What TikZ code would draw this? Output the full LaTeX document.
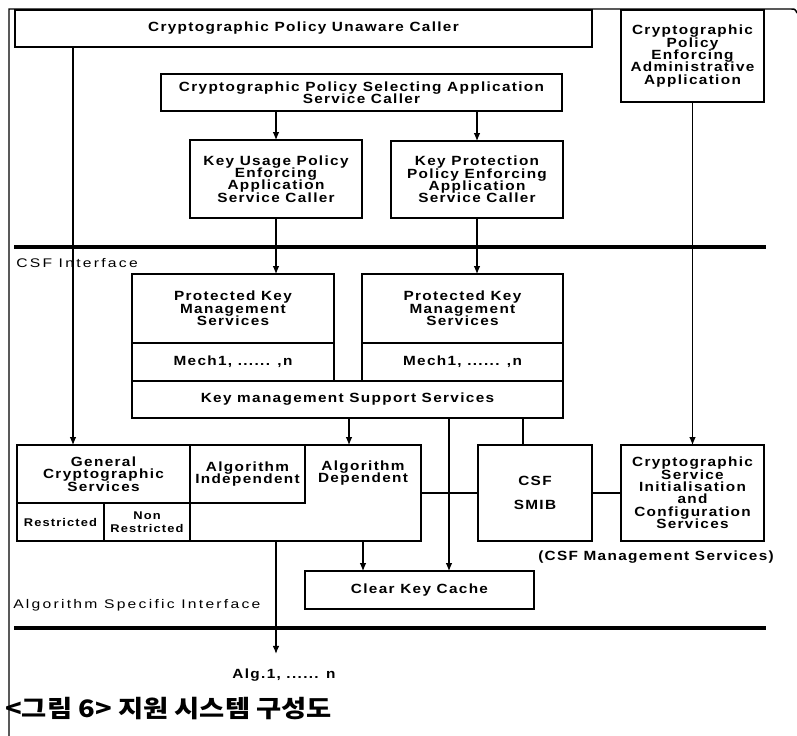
\documentclass[tikz,border=0pt]{standalone}
\usepackage{fontspec}
\usetikzlibrary{fit,arrows.meta}
\newfontfamily\bxfont[FakeStretch=1.15,LetterSpace=10]{Liberation Sans}
\newfontfamily\lbfont[FakeStretch=1.25,LetterSpace=18]{Liberation Sans}
\newfontfamily\krfont[FakeStretch=1.14]{Noto Sans CJK KR}
\newcommand\tightlines{\lineskiplimit=-20pt\lineskip=0pt}
\begin{document}
\begin{tikzpicture}[x=0.75pt,y=-0.75pt,
  bx/.style={draw, line width=0.9pt, inner sep=0pt, outer sep=0pt},
  zone/.style={inner sep=0pt, outer sep=0pt},
  txt/.style={font=\bxfont\bfseries\fontsize{10}{9.3}\selectfont\tightlines, align=center, inner sep=0pt},
  smalltxt/.style={font=\bxfont\bfseries\fontsize{8.4}{9.6}\selectfont\tightlines, align=center, inner sep=0pt},
  lbl/.style={font=\lbfont\fontsize{9.4}{10}\selectfont, inner sep=0pt},
  captiontext/.style={font=\krfont\bfseries\fontsize{18}{20}\selectfont, inner sep=0pt},
  ln/.style={line width=0.8pt},
  arr/.style={line width=0.8pt, -{Latex[length=6pt,width=5pt]}},
  bus/.style={line width=2.6pt},
  frameline/.style={line width=1.1pt}]
\useasboundingbox (0,0) rectangle (797,736);

% outer frame
\coordinate (fbl) at (9,736);
\coordinate (ftl) at (9,9);
\coordinate (ftr) at (791,9);
\coordinate (fte) at (797,13);
\draw[frameline] (fbl) -- (ftl) -- (ftr) .. controls (795,9) .. (fte);

% upper boxes
\node[bx, fit={(15,10) (592,47)}, label={[txt]center:{Cryptographic Policy Unaware Caller}}] (unaware) {};
\node[bx, fit={(161,74) (562,111)}, label={[txt]center:{Cryptographic Policy Selecting Application\\Service Caller}}] (select) {};
\node[bx, fit={(190,140) (362,218)}, label={[txt]center:{Key Usage Policy\\Enforcing\\Application\\Service Caller}}] (keyuse) {};
\node[bx, fit={(391,141) (563,218)}, label={[txt]center:{Key Protection\\Policy Enforcing\\Application\\Service Caller}}] (keyprot) {};
\node[bx, fit={(621,10) (764,102)}, label={[txt]center:{Cryptographic\\Policy\\Enforcing\\Administrative\\Application}}] (admin) {};

% interface buses
\coordinate (csfL) at (14,247);
\coordinate (csfR) at (766,247);
\draw[bus] (csfL) -- (csfR);
\node[lbl, anchor=west] (csfif) at (16,263) {CSF Interface};

\coordinate (asiL) at (14,628);
\coordinate (asiR) at (766,628);
\draw[bus] (asiL) -- (asiR);
\node[lbl, anchor=west] (asif) at (13,605) {Algorithm Specific Interface};

% key management
\node[bx, fit={(132,274) (334,343)}, label={[txt]center:{Protected Key\\Management\\Services}}] (pkm1) {};
\node[bx, fit={(132,343) (334,381)}, label={[txt]center:{Mech1, ...... ,n}}] (mech1) {};
\node[bx, fit={(362,274) (563,343)}, label={[txt]center:{Protected Key\\Management\\Services}}] (pkm2) {};
\node[bx, fit={(362,343) (563,381)}, label={[txt]center:{Mech1, ...... ,n}}] (mech2) {};
\node[bx, fit={(132,381) (563,418)}, label={[txt]center:{Key management Support Services}}] (kmss) {};

% general cryptographic services
\node[bx, fit={(17,445) (421,541)}] (gcbox) {};
\node[bx, fit={(17,445) (190,503)}, label={[txt]center:{General\\Cryptographic\\Services}}] (gcs) {};
\node[bx, fit={(190,445) (305,503)}, label={[txt]center:{Algorithm\\Independent}}] (algind) {};
\node[bx, fit={(17,503) (104,541)}, label={[smalltxt]center:{Restricted}}] (restr) {};
\node[bx, fit={(104,503) (190,541)}, label={[smalltxt]center:{Non\\Restricted}}] (nonrestr) {};
\node[zone, fit={(305,445) (421,541)}] (algdep) {};
\node[txt] (algdeptxt) at (363,473) {Algorithm\\Dependent};

\node[bx, fit={(478,445) (592,541)}, label={[txt]center:{CSF\\[9pt]SMIB}}] (smib) {};
\node[bx, fit={(621,445) (764,541)}, label={[txt]center:{Cryptographic\\Service\\Initialisation\\and\\Configuration\\Services}}] (csi) {};
\node[txt, anchor=west] (mgmt) at (538,557) {(CSF Management Services)};

\node[bx, fit={(305,571) (534,609)}, label={[txt]center:{Clear Key Cache}}] (ckc) {};

\node[txt, inner ysep=11pt] (alg) at (284,675) {Alg.1, ...... n};

\node[captiontext, anchor=west] (caption) at (5,709) {<그림 6> 지원 시스템 구성도};

% connectors
\draw[arr] (keyuse.north |- select.south) -- (keyuse.north);
\draw[arr] (keyprot.north |- select.south) -- (keyprot.north);
\draw[arr] (keyuse.south) -- (keyuse.south |- pkm1.north);
\draw[arr] (keyprot.south) -- (keyprot.south |- pkm2.north);
\draw[arr] (73,0 |- unaware.south) -- (73,0 |- gcbox.north);
\draw[arr] (admin.south) -- (csi.north);
\draw[arr] (349,0 |- kmss.south) -- (349,0 |- algdep.north);
\draw[arr] (449,0 |- kmss.south) -- (449,0 |- ckc.north);
\draw[ln] (523,0 |- kmss.south) -- (523,0 |- smib.north);
\draw[arr] (algdep.south) -- (algdep.south |- ckc.north);
\draw[arr] (276,0 |- gcbox.south) -- (276,0 |- alg.north);
\draw[ln] (algdep.east) -- (smib.west);
\draw[ln] (smib.east) -- (csi.west);
\end{tikzpicture}
\end{document}
